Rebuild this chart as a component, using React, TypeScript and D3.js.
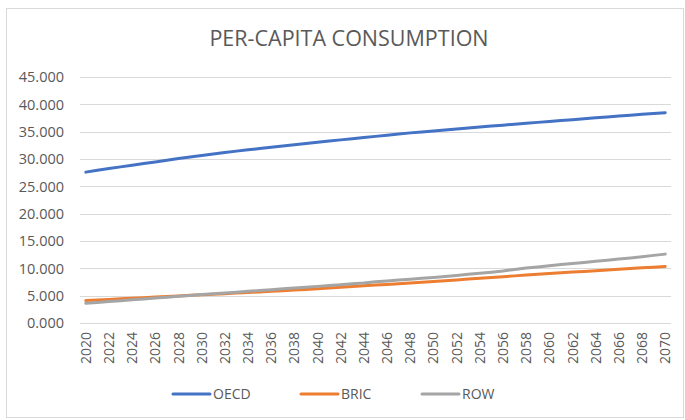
import React from "react";
import * as d3 from "d3";

// Per-capita consumption (thousands), yearly 2020–2070
const years: number[] = d3.range(2020, 2071);

const oecd: number[] = [
  27.6, 27.95, 28.25, 28.56, 28.86, 29.16, 29.46, 29.78, 30.1, 30.37,
  30.64, 30.91, 31.17, 31.44, 31.68, 31.91, 32.15, 32.38, 32.62, 32.85,
  33.07, 33.28, 33.5, 33.72, 33.93, 34.14, 34.36, 34.57, 34.78, 34.96,
  35.14, 35.32, 35.5, 35.67, 35.85, 36.02, 36.19, 36.36, 36.53, 36.7,
  36.87, 37.04, 37.2, 37.37, 37.53, 37.69, 37.85, 38.01, 38.17, 38.32,
  38.47,
];

const bric: number[] = [
  4.1, 4.21, 4.32, 4.42, 4.53, 4.64, 4.74, 4.85, 4.95, 5.06,
  5.16, 5.26, 5.37, 5.47, 5.58, 5.68, 5.79, 5.91, 6.03, 6.15,
  6.28, 6.4, 6.53, 6.66, 6.8, 6.93, 7.06, 7.19, 7.32, 7.44,
  7.57, 7.72, 7.88, 8.03, 8.18, 8.33, 8.48, 8.62, 8.77, 8.91,
  9.05, 9.18, 9.31, 9.44, 9.57, 9.7, 9.83, 9.96, 10.09, 10.22,
  10.35,
];

const row: number[] = [
  3.6, 3.76, 3.92, 4.08, 4.24, 4.4, 4.56, 4.72, 4.88, 5.04,
  5.2, 5.35, 5.5, 5.64, 5.79, 5.94, 6.1, 6.25, 6.4, 6.55,
  6.7, 6.86, 7.01, 7.17, 7.33, 7.54, 7.7, 7.86, 8.01, 8.17,
  8.33, 8.5, 8.68, 8.9, 9.1, 9.3, 9.51, 9.8, 10.05, 10.26,
  10.47, 10.68, 10.88, 11.08, 11.3, 11.5, 11.7, 11.9, 12.12, 12.37,
  12.6,
];

const seriesNames: string[] = ["OECD", "BRIC", "ROW"];
const seriesColors: string[] = ["#4472C4", "#ED7D31", "#A5A5A5"];
const yTicks: number[] = [0, 5, 10, 15, 20, 25, 30, 35, 40, 45];
const xTickYears: number[] = years.filter((y) => (y - 2020) % 2 === 0);

const W = 685;
const H = 420;
const plot = { left: 80, right: 671, top: 77, bottom: 323 };
const font = "'Open Sans', 'Noto Sans', sans-serif";
const textColor = "#595959";
const gridColor = "#d9d9d9";

export default function App() {
  const x = d3
    .scaleBand<number>()
    .domain(years)
    .range([plot.left, plot.right])
    .paddingInner(0)
    .paddingOuter(0);
  const cx = (yr: number) => (x(yr) as number) + x.bandwidth() / 2;
  const y = d3.scaleLinear().domain([0, 45]).range([plot.bottom, plot.top]);
  const fmt = d3.format(".3f");

  const line = d3
    .line<number>()
    .x((_, i) => cx(years[i]))
    .y((v) => y(v));

  const data = [oecd, bric, row];

  const legendItems = [
    { x: 173, name: seriesNames[0], color: seriesColors[0] },
    { x: 301, name: seriesNames[1], color: seriesColors[1] },
    { x: 422, name: seriesNames[2], color: seriesColors[2] },
  ];

  return (
    <svg
      width={W}
      height={H}
      style={{ position: "absolute", left: 0, top: 0, background: "#fff" }}
      fontFamily={font}
    >
      <rect x={6.5} y={8.5} width={677} height={409} fill="#fff" stroke={gridColor} />
      <text
        x={349}
        y={46}
        textAnchor="middle"
        fontSize={21.5}
        fill={textColor}
      >
        PER-CAPITA CONSUMPTION
      </text>

      {/* horizontal gridlines and value labels */}
      {yTicks.map((t) => (
        <g key={t}>
          <line
            x1={plot.left}
            x2={plot.right}
            y1={Math.round(y(t)) + 0.5}
            y2={Math.round(y(t)) + 0.5}
            stroke={gridColor}
            strokeWidth={1}
          />
          <text
            x={64}
            y={y(t)}
            dy="0.36em"
            textAnchor="end"
            fontSize={14.5}
            fill={textColor}
          >
            {fmt(t)}
          </text>
        </g>
      ))}

      {/* category labels, rotated */}
      {xTickYears.map((yr) => (
        <text
          key={yr}
          transform={`translate(${cx(yr)},${plot.bottom + 9}) rotate(-90)`}
          textAnchor="end"
          dy="0.36em"
          fontSize={14}
          fill={textColor}
        >
          {yr}
        </text>
      ))}

      {/* series lines */}
      {data.map((s, i) => (
        <path
          key={seriesNames[i]}
          d={line(s) as string}
          fill="none"
          stroke={seriesColors[i]}
          strokeWidth={3}
          strokeLinecap="round"
          strokeLinejoin="round"
        />
      ))}

      {/* legend */}
      {legendItems.map((it) => (
        <g key={it.name}>
          <line
            x1={it.x}
            x2={it.x + 37}
            y1={394}
            y2={394}
            stroke={it.color}
            strokeWidth={3}
            strokeLinecap="round"
          />
          <text
            x={it.x + 40}
            y={394}
            dy="0.36em"
            fontSize={14}
            fill={textColor}
          >
            {it.name}
          </text>
        </g>
      ))}
    </svg>
  );
}
